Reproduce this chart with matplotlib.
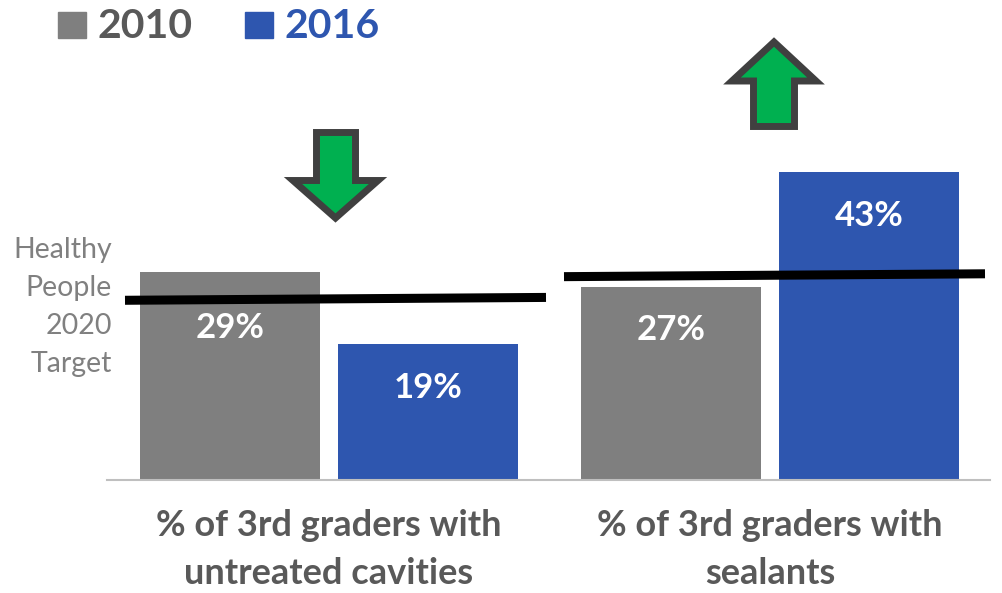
import matplotlib
matplotlib.use("Agg")
import matplotlib.pyplot as plt
from matplotlib.patches import Polygon
import numpy as np

# ---- data ----
categories = ["% of 3rd graders with\nuntreated cavities", "% of 3rd graders with\nsealants"]
years = ["2010", "2016"]
values_2010 = [29, 27]
values_2016 = [19, 43]
labels_2010 = ["29%", "27%"]
labels_2016 = ["19%", "43%"]
target_left = [25.1, 25.5]    # drawn slightly sloped, as in reference
target_right = [28.4, 28.8]
target_label = "Healthy\nPeople\n2020\nTarget"

GREY = "#7F7F7F"
BLUE = "#2E56AF"
TEXT = "#595959"
GREEN = "#00B050"
OUTLINE = "#404040"
FONT = "Lato"

W, H = 1003, 593
fig = plt.figure(figsize=(W / 100, H / 100), dpi=100)

# pixel geometry helpers for axes placement
px_per_unit = 441.0
x0_pix = 329.0       # pixel of group 0 center
base_pix = 480.0
px_per_pct = 7.16
ax_left_pix, ax_right_pix = 107.0, 990.0
xlim = ((ax_left_pix - x0_pix) / px_per_unit, (ax_right_pix - x0_pix) / px_per_unit)
ylim = (0, base_pix / px_per_pct)
ax = fig.add_axes([ax_left_pix / W, (H - base_pix) / H, (ax_right_pix - ax_left_pix) / W, base_pix / H])
ax.set_xlim(*xlim)
ax.set_ylim(*ylim)

def d(xp, yp):
    return ((xp - x0_pix) / px_per_unit, (base_pix - yp) / px_per_pct)

x = np.arange(len(categories))
bw = 180 / px_per_unit
off = 99 / px_per_unit
b1 = ax.bar(x - off, values_2010, bw, color=GREY, zorder=2)
b2 = ax.bar(x + off, values_2016, bw, color=BLUE, zorder=2)

# data labels
label_drop = [7.8, 6.0]
for i, (r, lab) in enumerate(zip(b1, labels_2010)):
    ax.text(r.get_x() + r.get_width() / 2, r.get_height() - label_drop[i], lab,
            ha="center", va="center", color="white", fontsize=25, fontweight="bold",
            family=FONT, zorder=4)
for i, (r, lab) in enumerate(zip(b2, labels_2016)):
    ax.text(r.get_x() + r.get_width() / 2, r.get_height() - 6.1, lab,
            ha="center", va="center", color="white", fontsize=25, fontweight="bold",
            family=FONT, zorder=4)

# target lines
ax.plot([d(125, 0)[0], d(546, 0)[0]], target_left, color="black", lw=6.5,
        solid_capstyle="butt", zorder=3, clip_on=False)
ax.plot([d(564, 0)[0], d(985, 0)[0]], target_right, color="black", lw=6.5,
        solid_capstyle="butt", zorder=3, clip_on=False)

# target label
fig.text(112 / W, 1 - 307 / H, target_label, ha="right", va="center",
         fontsize=20.5, color="#808080", family=FONT, linespacing=1.58)

# arrows (pixel path coordinates, converted to data)
down = [(316.5, 132.5), (355.5, 132.5), (355.5, 180.5), (378, 180.5), (335.5, 218),
        (293, 180.5), (316.5, 180.5)]
up = [(774, 42), (816, 81), (794.5, 81), (794.5, 126.5), (753.5, 126.5), (753.5, 81), (732, 81)]
for pts in (down, up):
    poly = Polygon([d(*p) for p in pts], closed=True, facecolor=GREEN, edgecolor=OUTLINE,
                   lw=5, joinstyle="miter", zorder=5, clip_on=False)
    ax.add_patch(poly)

# axes styling
for s in ("top", "right", "left"):
    ax.spines[s].set_visible(False)
ax.spines["bottom"].set_color("#BFBFBF")
ax.spines["bottom"].set_linewidth(1.5)
ax.set_yticks([])
ax.set_xticks(x)
ax.set_xticklabels(categories, fontsize=26, fontweight="bold", color=TEXT,
                   family=FONT, linespacing=1.55)
ax.tick_params(axis="x", length=0, pad=21)

# legend (custom)
fig.patches.append(plt.Rectangle((58 / W, 1 - 38 / H), 28 / W, 26 / H, color=GREY,
                                 transform=fig.transFigure, figure=fig))
fig.text(98 / W, 1 - 26 / H, years[0], ha="left", va="center", fontsize=29.5,
         fontweight="bold", color=TEXT, family=FONT)
fig.patches.append(plt.Rectangle((245 / W, 1 - 38 / H), 28 / W, 26 / H, color=BLUE,
                                 transform=fig.transFigure, figure=fig))
fig.text(285 / W, 1 - 26 / H, years[1], ha="left", va="center", fontsize=29.5,
         fontweight="bold", color=BLUE, family=FONT)

fig.savefig("out.png", dpi=100)
